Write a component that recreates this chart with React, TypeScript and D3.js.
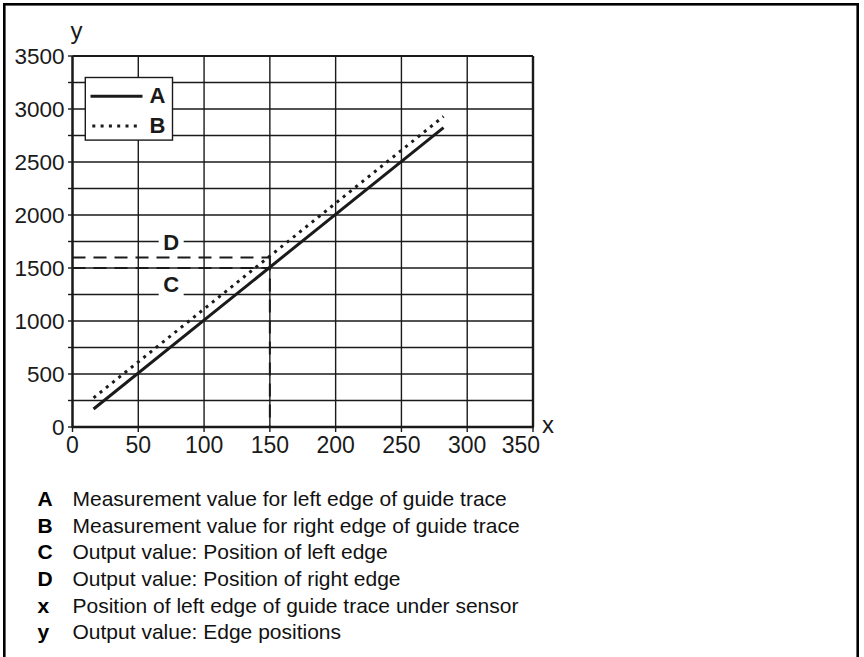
import { useMemo } from "react";
import { line, scaleLinear } from "d3";

const xTickValues = [0, 50, 100, 150, 200, 250, 300, 350];
const yTickValues = [0, 500, 1000, 1500, 2000, 2500, 3000, 3500];
const yGridValues = [0, 250, 500, 750, 1000, 1250, 1500, 1750, 2000, 2250, 2500, 2750, 3000, 3250, 3500];

// A = left edge, B = right edge
const edgeAX = [16, 282];
const edgeAY = [170, 2825];
const edgeBX = [16, 282];
const edgeBY = [275, 2930];

const markerX = 150;
const outputC = 1500;
const outputD = 1600;

const keyLetters = ["A", "B", "C", "D", "x", "y"];
const keyTexts = [
  "Measurement value for left edge of guide trace",
  "Measurement value for right edge of guide trace",
  "Output value: Position of left edge",
  "Output value: Position of right edge",
  "Position of left edge of guide trace under sensor",
  "Output value: Edge positions",
];

const INK = "#1a1a1a";
const SANS = "'Liberation Sans', Arial, Helvetica, sans-serif";
const NARROW = "'Liberation Sans Narrow', 'Liberation Sans', Arial, sans-serif";

export default function App() {
  const W = 864;
  const H = 657;
  const left = 72.5;
  const right = 533;
  const top = 56;
  const bottom = 427;

  const x = useMemo(() => scaleLinear().domain([0, 350]).range([left, right]), []);
  const y = useMemo(() => scaleLinear().domain([0, 3500]).range([bottom, top]), []);

  const path = line<[number, number]>()
    .x((d) => x(d[0]))
    .y((d) => y(d[1]));

  const ptsA = edgeAX.map((v, i) => [v, edgeAY[i]] as [number, number]);
  const ptsB = edgeBX.map((v, i) => [v, edgeBY[i]] as [number, number]);

  const dash = "13 8";
  const lastTick = xTickValues[xTickValues.length - 1];

  return (
    <svg
      width={W}
      height={H}
      style={{ position: "absolute", left: 0, top: 0, background: "#fff" }}
      fontFamily={SANS}
    >
      <rect x={0} y={0} width={W} height={H} fill="#fff" />
      {/* outer frame, bottom edge runs off the page */}
      <rect x={4.3} y={4.3} width={853.4} height={H + 10} fill="none" stroke="#000" strokeWidth={2.6} />

      {/* grid */}
      {yGridValues.map((v) => (
        <line key={"gy" + v} x1={left} x2={right} y1={y(v)} y2={y(v)} stroke={INK} strokeWidth={1.4} />
      ))}
      {xTickValues.map((v) => (
        <line key={"gx" + v} x1={x(v)} x2={x(v)} y1={top} y2={bottom} stroke={INK} strokeWidth={1.4} />
      ))}

      {/* tick marks */}
      {yGridValues.map((v) => (
        <line key={"ty" + v} x1={left - 4.5} x2={left} y1={y(v)} y2={y(v)} stroke={INK} strokeWidth={1.4} />
      ))}
      {xTickValues.map((v) => (
        <line key={"tx" + v} x1={x(v)} x2={x(v)} y1={bottom} y2={bottom + 5} stroke={INK} strokeWidth={1.4} />
      ))}

      {/* frame of the plot */}
      <line x1={left} x2={right} y1={top} y2={top} stroke={INK} strokeWidth={2.2} />
      <line x1={right} x2={right} y1={top} y2={bottom} stroke={INK} strokeWidth={2.4} />
      <line x1={left} x2={left} y1={top} y2={bottom + 1} stroke={INK} strokeWidth={2.4} />
      <line x1={left} x2={right + 1} y1={bottom} y2={bottom} stroke={INK} strokeWidth={2.4} />

      {/* C / D labels sitting over the grid */}
      <rect x={x(75) - 12.5} y={y(1740) - 12} width={25} height={24} fill="#fff" />
      <text x={x(75)} y={y(1740)} dy="0.35em" textAnchor="middle" fontWeight="bold" fontSize={22} fill={INK}>
        D
      </text>
      <rect x={x(75) - 12.5} y={y(1350) - 12} width={25} height={25} fill="#fff" />
      <text x={x(75)} y={y(1350)} dy="0.35em" textAnchor="middle" fontWeight="bold" fontSize={22} fill={INK}>
        C
      </text>

      {/* output guides */}
      <line x1={left} x2={x(markerX)} y1={y(outputD)} y2={y(outputD)} stroke={INK} strokeWidth={2} strokeDasharray={dash} />
      <line x1={left} x2={x(markerX)} y1={y(outputC)} y2={y(outputC)} stroke={INK} strokeWidth={2} strokeDasharray={dash} />
      <line x1={x(markerX)} x2={x(markerX)} y1={y(outputD)} y2={bottom} stroke={INK} strokeWidth={2} strokeDasharray={dash} />

      {/* series */}
      <path d={path(ptsB) ?? ""} fill="none" stroke={INK} strokeWidth={3} strokeDasharray="3 5" />
      <path d={path(ptsA) ?? ""} fill="none" stroke={INK} strokeWidth={3} />

      {/* legend */}
      <rect x={85.3} y={77.5} width={87.2} height={62.6} fill="#fff" stroke={INK} strokeWidth={1.4} />
      <line x1={90.5} x2={142.5} y1={96.3} y2={96.3} stroke={INK} strokeWidth={3} />
      <text x={149.5} y={102.8} fontWeight="bold" fontSize={22} fill={INK}>
        A
      </text>
      <line x1={92.3} x2={137} y1={126} y2={126} stroke={INK} strokeWidth={3} strokeDasharray="3 5.3" />
      <text x={149.5} y={132.8} fontWeight="bold" fontSize={22} fill={INK}>
        B
      </text>

      {/* tick labels */}
      {yTickValues.map((v) => (
        <text
          key={"ly" + v}
          x={left - 8}
          y={y(v)}
          dy="0.36em"
          textAnchor="end"
          fontFamily={NARROW}
          fontSize={22.5}
          fill={INK}
        >
          {v}
        </text>
      ))}
      {xTickValues.map((v) => (
        <text
          key={"lx" + v}
          x={v === lastTick ? x(v) + 7 : x(v)}
          y={453}
          textAnchor={v === lastTick ? "end" : "middle"}
          fontSize={23}
          fill={INK}
        >
          {v}
        </text>
      ))}

      {/* axis names */}
      <text x={542} y={433} fontSize={24} fill={INK}>
        x
      </text>
      <text x={70.5} y={38.5} fontSize={24} fill={INK}>
        y
      </text>

      {/* key below the chart */}
      {keyLetters.map((k, i) => (
        <g key={"k" + k} transform={`translate(0, ${506 + i * 26.67})`}>
          <text x={37.5} y={0} fontWeight="bold" fontSize={21} fill="#000">
            {k}
          </text>
          <text x={72.5} y={0} fontSize={21} fill="#111">
            {keyTexts[i]}
          </text>
        </g>
      ))}
    </svg>
  );
}
